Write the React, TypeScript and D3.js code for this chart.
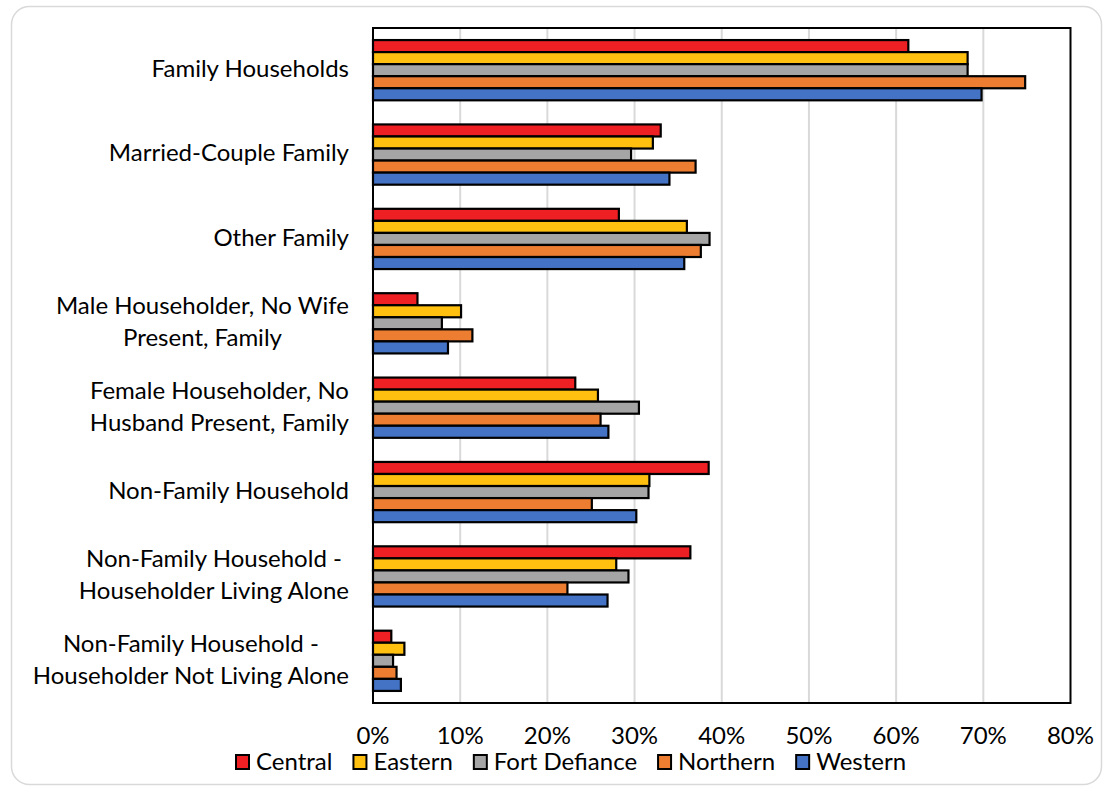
import React, { useEffect, useRef } from "react";
import * as d3 from "d3";

// Household type shares by agency region
const categories: string[][] = [
  ["Family Households"],
  ["Married-Couple Family"],
  ["Other Family"],
  ["Male Householder, No Wife", "Present, Family"],
  ["Female Householder, No", "Husband Present, Family"],
  ["Non-Family Household"],
  ["Non-Family Household -", "Householder Living Alone"],
  ["Non-Family Household -", "Householder Not Living Alone"],
];

const seriesNames = ["Central", "Eastern", "Fort Defiance", "Northern", "Western"];
const seriesColors = ["#EE2024", "#FFC010", "#A5A5A5", "#ED7D31", "#4472C4"];

const central = [61.4, 33.0, 28.2, 5.1, 23.2, 38.5, 36.4, 2.1];
const eastern = [68.2, 32.1, 36.0, 10.1, 25.8, 31.7, 27.9, 3.6];
const fortDefiance = [68.2, 29.6, 38.6, 7.9, 30.5, 31.6, 29.3, 2.3];
const northern = [74.8, 37.0, 37.6, 11.4, 26.1, 25.1, 22.3, 2.7];
const western = [69.8, 34.0, 35.7, 8.6, 27.0, 30.2, 26.9, 3.2];

const seriesValues = [central, eastern, fortDefiance, northern, western];
const xTicks = [0, 10, 20, 30, 40, 50, 60, 70, 80];

const W = 1108;
const H = 787;
const FONT = "Lato, 'Open Sans', sans-serif";
const FS = 24;

export default function App() {
  const ref = useRef<SVGSVGElement | null>(null);

  useEffect(() => {
    const svg = d3.select(ref.current);
    svg.selectAll("*").remove();

    // outer card
    svg
      .append("rect")
      .attr("x", 11.5)
      .attr("y", 6.5)
      .attr("width", 1090)
      .attr("height", 778)
      .attr("rx", 18)
      .attr("fill", "#fff")
      .attr("stroke", "#D9D9D9")
      .attr("stroke-width", 1.5);

    const left = 373;
    const right = 1070.5;
    const top = 28;
    const bottom = 703;

    const x = d3.scaleLinear().domain([0, 80]).range([left, right]);
    const y = d3
      .scaleBand<number>()
      .domain(d3.range(categories.length))
      .range([top, bottom])
      .paddingInner(0.286)
      .paddingOuter(0.143);
    const ySub = d3
      .scaleBand<number>()
      .domain(d3.range(seriesNames.length))
      .range([0, y.bandwidth()]);

    // gridlines
    svg
      .append("g")
      .selectAll("line")
      .data(xTicks.slice(1, -1))
      .join("line")
      .attr("x1", (d) => x(d))
      .attr("x2", (d) => x(d))
      .attr("y1", top)
      .attr("y2", bottom)
      .attr("stroke", "#D9D9D9")
      .attr("stroke-width", 2);

    // bars
    const groups = svg
      .append("g")
      .selectAll("g")
      .data(categories.map((_, i) => i))
      .join("g")
      .attr("transform", (i) => `translate(0,${y(i)})`);

    groups
      .selectAll("rect")
      .data((i) => seriesValues.map((vals, s) => ({ s, v: vals[i] })))
      .join("rect")
      .attr("x", x(0))
      .attr("y", (d) => ySub(d.s)!)
      .attr("width", (d) => x(d.v) - x(0))
      .attr("height", ySub.bandwidth())
      .attr("fill", (d) => seriesColors[d.s])
      .attr("stroke", "#000")
      .attr("stroke-width", 2.2);

    // plot frame
    svg
      .append("rect")
      .attr("x", left)
      .attr("y", top)
      .attr("width", right - left)
      .attr("height", bottom - top)
      .attr("fill", "none")
      .attr("stroke", "#000")
      .attr("stroke-width", 2);

    // category labels: multi-line blocks centred on themselves, right-aligned
    const labelRight = 349;
    const lineGap = 32;
    categories.forEach((lines, i) => {
      const cy = y(i)! + y.bandwidth() / 2 - 1.5;
      const g = svg.append("g");
      const texts = lines.map((line, k) =>
        g
          .append("text")
          .attr("y", cy + (k - (lines.length - 1) / 2) * lineGap)
          .attr("dy", "0.35em")
          .attr("font-family", FONT)
          .attr("font-size", FS)
          .attr("fill", "#000")
          .attr("text-anchor", "middle")
          .text(line)
      );
      const widths = texts.map((t) => (t.node() as SVGTextElement).getComputedTextLength());
      const maxW = d3.max(widths) ?? 0;
      texts.forEach((t) => t.attr("x", labelRight - maxW / 2));
    });

    // x tick labels
    svg
      .append("g")
      .selectAll("text")
      .data(xTicks)
      .join("text")
      .attr("x", (d) => x(d))
      .attr("y", 744)
      .attr("text-anchor", "middle")
      .attr("font-family", FONT)
      .attr("font-size", FS)
      .attr("fill", "#000")
      .text((d) => `${d}%`);

    // legend
    let lx = 236;
    const ly = 762;
    seriesNames.forEach((name, s) => {
      svg
        .append("rect")
        .attr("x", lx)
        .attr("y", ly - 7)
        .attr("width", 13)
        .attr("height", 14)
        .attr("fill", seriesColors[s])
        .attr("stroke", "#000")
        .attr("stroke-width", 2);
      const t = svg
        .append("text")
        .attr("x", lx + 20)
        .attr("y", ly)
        .attr("dy", "0.35em")
        .attr("font-family", FONT)
        .attr("font-size", FS)
        .attr("fill", "#000")
        .text(name);
      const w = (t.node() as SVGTextElement).getComputedTextLength();
      lx += 20 + w + 21;
    });
  }, []);

  return (
    <svg
      ref={ref}
      width={W}
      height={H}
      style={{ position: "absolute", left: 0, top: 0, background: "#fff" }}
    />
  );
}
